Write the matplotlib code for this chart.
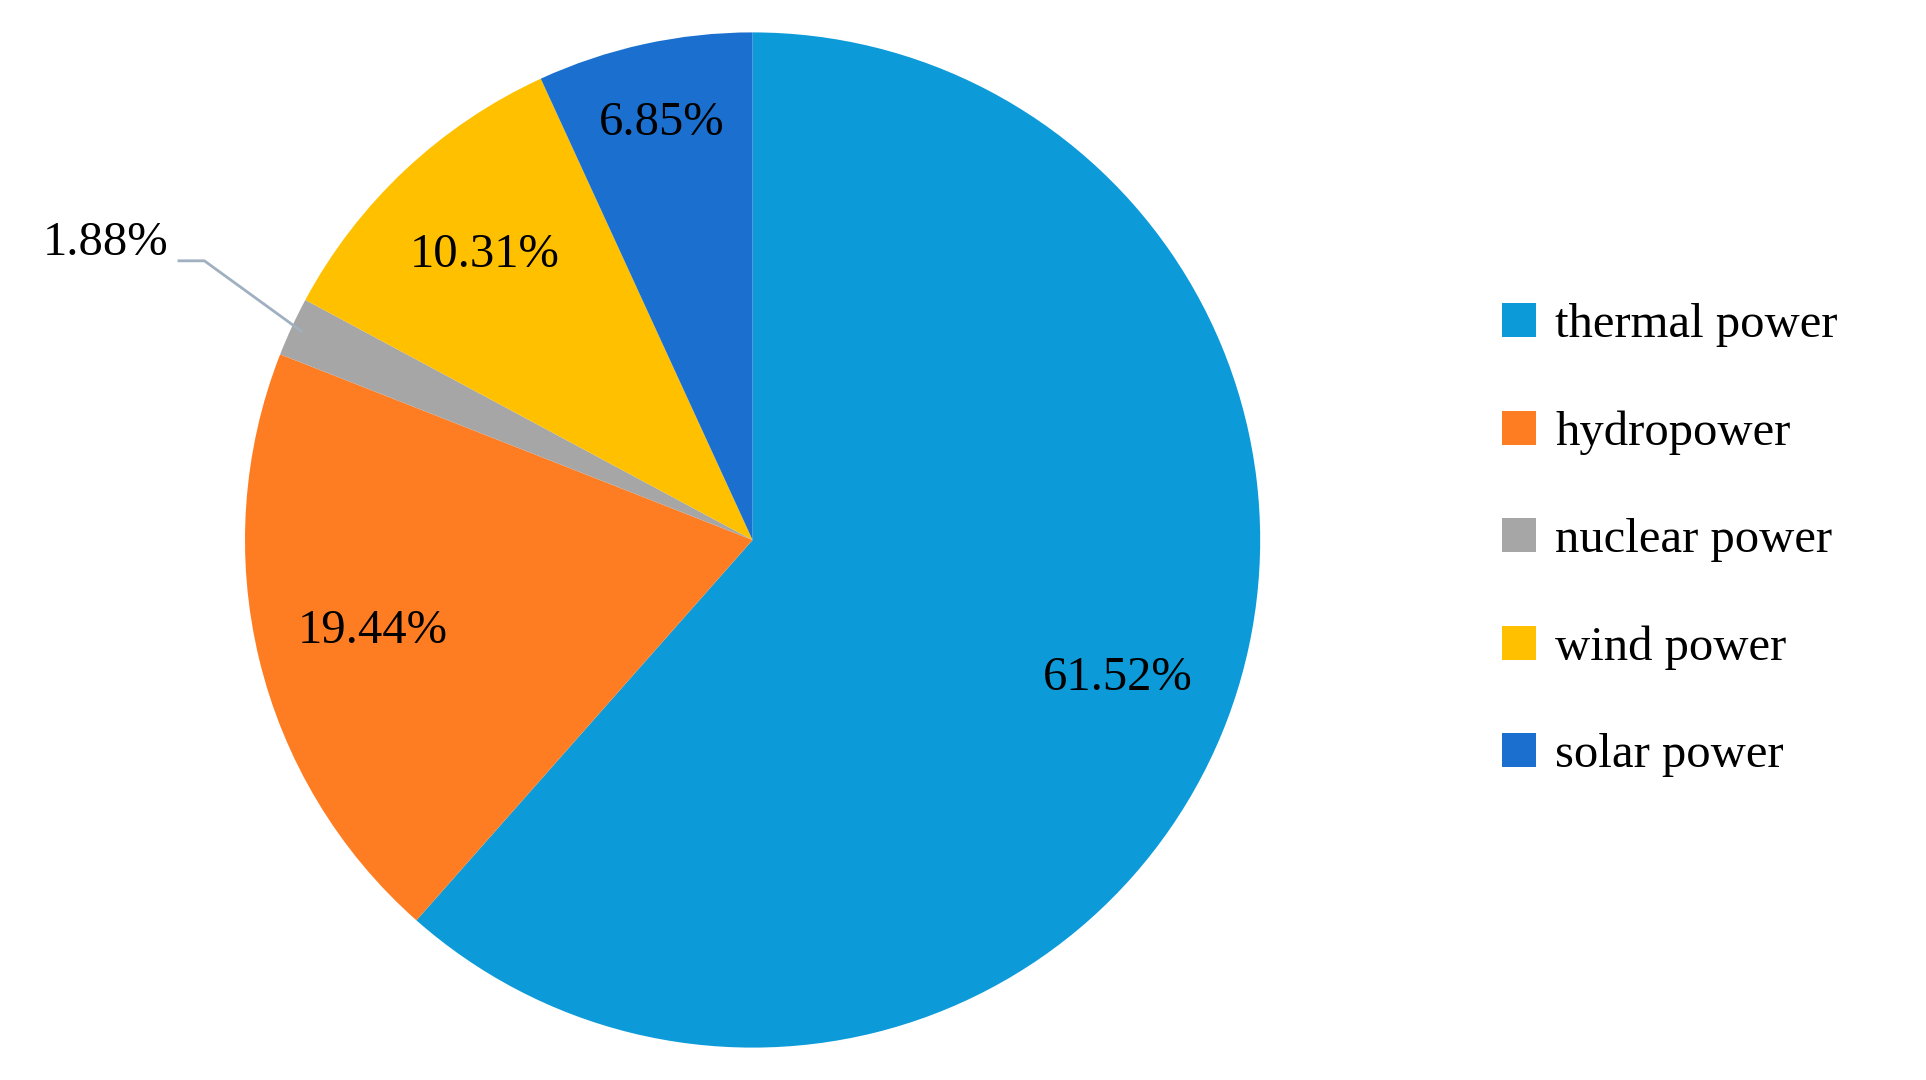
import numpy as np
import matplotlib.pyplot as plt

labels = ['thermal power', 'hydropower', 'nuclear power', 'wind power', 'solar power']
shares = [61.52, 19.44, 1.88, 10.31, 6.85]
colors = ['#0C9AD9', '#FF7D22', '#A6A6A6', '#FFC000', '#1B6FCF']

plt.rcParams['font.family'] = ['Liberation Serif', 'DejaVu Serif']

fig = plt.figure(figsize=(19.26, 10.8), dpi=100)
ax = fig.add_axes([0.127, 0.03, 0.5275, 0.94])
wedges, _ = ax.pie(shares, colors=colors, startangle=90, counterclock=False,
                   wedgeprops=dict(linewidth=0))
ax.set_aspect('equal')
ax.set_xlim(-1, 1)
ax.set_ylim(-1, 1)

# percentage labels inside slices
for i, w in enumerate(wedges):
    mid = np.deg2rad((w.theta1 + w.theta2) / 2)
    txt = f'{shares[i]:.2f}%'
    if labels[i] == 'nuclear power':
        x0, y0 = np.cos(mid) * 0.98, np.sin(mid) * 0.98
        ax.plot([x0, -1.08, -1.13], [y0, 0.55, 0.55], color='#A0B0C0', lw=2, clip_on=False)
        ax.text(-1.15, 0.585, txt, ha='right', va='center', fontsize=35)
        continue
    r = 0.84 if labels[i] == 'solar power' else 0.77
    ax.text(np.cos(mid) * r, np.sin(mid) * r, txt, ha='center', va='center', fontsize=35)

fig.legend(wedges, labels, loc='center left', bbox_to_anchor=(0.757, 0.5),
           frameon=False, fontsize=35, handlelength=0.7, handleheight=0.7,
           labelspacing=1.3, handletextpad=0.4)

fig.savefig('out.png')
